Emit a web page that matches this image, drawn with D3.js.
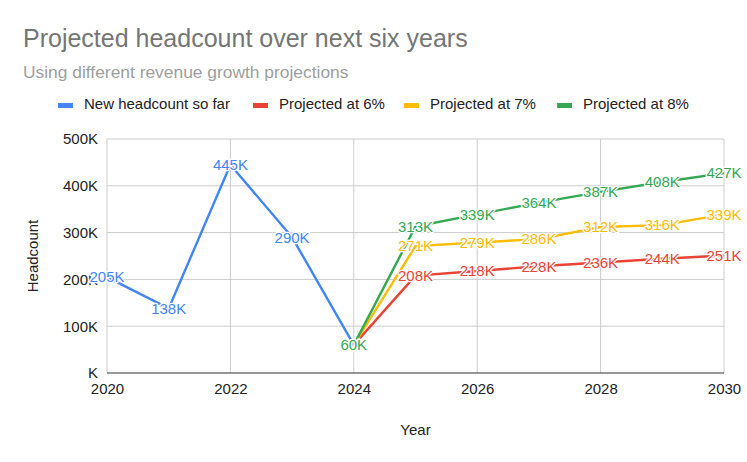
<!DOCTYPE html>
<html>
<head>
<meta charset="utf-8">
<script src="https://cdn.jsdelivr.net/npm/d3@7"></script>
<style>
  html, body { margin: 0; padding: 0; background: #fff; }
  svg { display: block; font-family: "Liberation Sans", Arial, sans-serif; }
</style>
</head>
<body>
<svg id="chart" width="747" height="462"></svg>
<script>
// ---- Data ----
const historyYears = [2020, 2021, 2022, 2023, 2024];
const historyValues = [205, 138, 445, 290, 60];            // thousands
const projYears = [2024, 2025, 2026, 2027, 2028, 2029, 2030];
const proj6 = [60, 208, 218, 228, 236, 244, 251];
const proj7 = [60, 271, 279, 286, 312, 316, 339];
const proj8 = [60, 313, 339, 364, 387, 408, 427];
const seriesNames = ["New headcount so far", "Projected at 6%", "Projected at 7%", "Projected at 8%"];
const seriesColors = ["#4285F4", "#EA4335", "#FBBC04", "#34A853"];
const yTicks = [0, 100, 200, 300, 400, 500];
const xTicks = [2020, 2022, 2024, 2026, 2028, 2030];

(function () {
const series = [
  { name: seriesNames[0], color: seriesColors[0], pts: historyYears.map((yr, i) => ({ x: yr, v: historyValues[i] })) },
  { name: seriesNames[1], color: seriesColors[1], pts: projYears.map((yr, i) => ({ x: yr, v: proj6[i] })) },
  { name: seriesNames[2], color: seriesColors[2], pts: projYears.map((yr, i) => ({ x: yr, v: proj7[i] })) },
  { name: seriesNames[3], color: seriesColors[3], pts: projYears.map((yr, i) => ({ x: yr, v: proj8[i] })) }
];

const svg = d3.select("#chart");
const pL = 107, pR = 724, pT = 139, pB = 373;
const x = d3.scaleLinear().domain([2020, 2030]).range([pL, pR]);
const y = d3.scaleLinear().domain([0, 500]).range([pB, pT]);
const fmt = v => (v === 0 ? "" : v) + "K";

// Title & subtitle
svg.append("text").attr("x", 23).attr("y", 47).attr("fill", "#757575")
  .attr("font-size", 25).text("Projected headcount over next six years");
svg.append("text").attr("x", 23).attr("y", 78).attr("fill", "#9e9e9e")
  .attr("font-size", 17.4).text("Using different revenue growth projections");

// Legend
const legendX = [58, 253, 404, 557];
const lg = svg.append("g");
series.forEach((s, i) => {
  lg.append("rect").attr("x", legendX[i]).attr("y", 103).attr("width", 15).attr("height", 5).attr("fill", s.color);
  lg.append("text").attr("x", legendX[i] + 26).attr("y", 105.5).attr("dominant-baseline", "middle")
    .attr("font-size", 15).attr("fill", "#222").text(s.name);
});

// Gridlines
const grid = svg.append("g");
grid.selectAll("line.h").data(yTicks.filter(t => t !== 0)).join("line")
  .attr("x1", pL).attr("x2", pR).attr("y1", d => y(d)).attr("y2", d => y(d))
  .attr("stroke", "#cccccc").attr("stroke-width", 1);
grid.selectAll("line.v").data(xTicks).join("line")
  .attr("x1", d => x(d)).attr("x2", d => x(d)).attr("y1", pT).attr("y2", pB)
  .attr("stroke", "#cccccc").attr("stroke-width", 1);

// Axes
const yAxis = svg.append("g").attr("transform", `translate(${pL},0)`)
  .call(d3.axisLeft(y).tickValues(yTicks).tickFormat(fmt).tickSize(0).tickPadding(9));
yAxis.select(".domain").remove();
yAxis.selectAll("text").attr("font-size", 15).attr("fill", "#222").attr("font-family", "Liberation Sans, Arial, sans-serif");

const xAxis = svg.append("g").attr("transform", `translate(0,${pB})`)
  .call(d3.axisBottom(x).tickValues(xTicks).tickFormat(d3.format("d")).tickSize(0).tickPadding(10));
xAxis.select(".domain").remove();
xAxis.selectAll("text").attr("font-size", 15).attr("fill", "#222").attr("font-family", "Liberation Sans, Arial, sans-serif");

// Baseline
svg.append("line").attr("x1", pL).attr("x2", pR).attr("y1", pB).attr("y2", pB)
  .attr("stroke", "#333").attr("stroke-width", 1.2);

// Axis titles
svg.append("text").attr("x", (pL + pR) / 2).attr("y", 435).attr("text-anchor", "middle")
  .attr("font-size", 15).attr("fill", "#222").text("Year");
svg.append("text").attr("transform", `translate(38,${(pT + pB) / 2}) rotate(-90)`)
  .attr("text-anchor", "middle").attr("font-size", 15).attr("fill", "#222").text("Headcount");

// Lines
const line = d3.line().x(d => x(d.x)).y(d => y(d.v));
series.forEach(s => {
  svg.append("path").datum(s.pts).attr("d", line).attr("fill", "none")
    .attr("stroke", s.color).attr("stroke-width", 2.4).attr("stroke-linejoin", "round");
});

// Data labels
series.forEach(s => {
  svg.append("g").selectAll("text").data(s.pts).join("text")
    .attr("x", d => x(d.x)).attr("y", d => y(d.v)).attr("dy", "0.35em")
    .attr("text-anchor", "middle").attr("font-size", 15)
    .attr("fill", s.color).attr("stroke", "#fff").attr("stroke-width", 2.5)
    .attr("paint-order", "stroke").attr("stroke-linejoin", "round")
    .text(d => d.v + "K");
});
})();
</script>
</body>
</html>
